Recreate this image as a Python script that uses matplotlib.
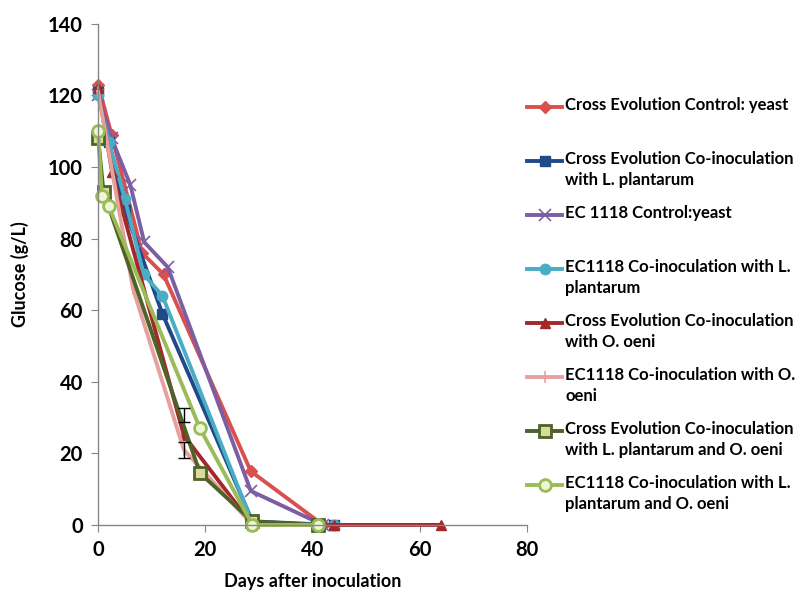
import numpy as np
import matplotlib
matplotlib.use("Agg")
import matplotlib.pyplot as plt

plt.rcParams['font.family'] = ['Lato', 'DejaVu Sans']
plt.rcParams['font.weight'] = 'bold'

# Glucose (g/L) against days after inoculation, one list pair per treatment
ce_ctrl_days = [0, 2.5, 8.2, 12.2, 28.5, 42]
ce_ctrl_glu = [123, 109, 76, 70, 15, 0]

ce_lp_days = [0, 2, 5, 12, 28.8, 44]
ce_lp_glu = [121, 107, 88, 59, 1, 0]

ec_ctrl_days = [0, 2.5, 6, 8.6, 13, 28.5, 42]
ec_ctrl_glu = [120, 108, 95, 79, 72, 9.5, 0]

ec_lp_days = [0, 2, 5, 8.5, 12, 28.8, 44]
ec_lp_glu = [120, 107, 91, 70, 64, 0.5, 0]

ce_oo_days = [0, 2.6, 16, 28.8, 44, 64]
ce_oo_glu = [122, 98.5, 25, 0, 0, 0]

ec_oo_days = [0, 2, 6.5, 16, 28.8, 41]
ec_oo_glu = [121, 104, 66, 21, 0, 0]

ce_lpoo_days = [0, 1, 19, 28.8, 41]
ce_lpoo_glu = [108, 93, 14.5, 1, 0]

ec_lpoo_days = [0, 0.7, 2, 19, 28.8, 41]
ec_lpoo_glu = [110, 92, 89, 27, 0, 0]

# standard deviation bars shown around day 16
err_days = [16, 16]
err_mid = [30.7, 21]
err_half = [2, 2.2]

labels = [
    "Cross Evolution Control: yeast",
    "Cross Evolution Co-inoculation\nwith L. plantarum",
    "EC 1118 Control:yeast",
    "EC1118 Co-inoculation with L.\nplantarum",
    "Cross Evolution Co-inoculation\nwith O. oeni",
    "EC1118 Co-inoculation with O.\noeni",
    "Cross Evolution Co-inoculation\nwith L. plantarum and O. oeni",
    "EC1118 Co-inoculation with L.\nplantarum and O. oeni",
]

series = [
    (ce_ctrl_days, ce_ctrl_glu),
    (ce_lp_days, ce_lp_glu),
    (ec_ctrl_days, ec_ctrl_glu),
    (ec_lp_days, ec_lp_glu),
    (ce_oo_days, ce_oo_glu),
    (ec_oo_days, ec_oo_glu),
    (ce_lpoo_days, ce_lpoo_glu),
    (ec_lpoo_days, ec_lpoo_glu),
]

styles = [
    dict(color="#D9504E", marker="D", ms=6.5, mfc="#D9504E", mec="#D9504E"),
    dict(color="#1F4A87", marker="s", ms=7.5, mfc="#1F4A87", mec="#1F4A87"),
    dict(color="#7C5FA3", marker="x", ms=8, mfc="#7C5FA3", mec="#7C5FA3", mew=1.2),
    dict(color="#4BACC6", marker="o", ms=7.5, mfc="#4BACC6", mec="#4BACC6"),
    dict(color="#A3282C", marker="^", ms=7.5, mfc="#A3282C", mec="#A3282C"),
    dict(color="#E8A09E", marker="|", ms=9, mfc="#E8A09E", mec="#E8A09E", mew=1.2),
    dict(color="#4F6228", marker="s", ms=8, mfc="#D8DC98", mec="#4F6228", mew=2),
    dict(color="#9BBB59", marker="o", ms=8.5, mfc="#EEF6D8", mec="#9BBB59", mew=2),
]

fig = plt.figure(figsize=(7.98, 6.01), dpi=100)
ax = fig.add_axes([0.123, 0.1265, 0.537, 0.834])

for (d, g), st in zip(series, styles):
    ax.plot(d, g, lw=2.8, clip_on=False, **st)

ax.errorbar(err_days, err_mid, yerr=err_half, fmt="none", ecolor="black",
            elinewidth=1, capsize=4, capthick=1)

ax.set_xlim(0, 80)
ax.set_ylim(0, 140)
ax.set_xticks(np.arange(0, 81, 20))
ax.set_yticks(np.arange(0, 141, 20))
for s in ["top", "right"]:
    ax.spines[s].set_visible(False)
for s in ["left", "bottom"]:
    ax.spines[s].set_color("#868686")
    ax.spines[s].set_linewidth(1)
ax.tick_params(axis="both", direction="out", length=5, color="#868686",
               labelsize=14.5, pad=6)
ax.set_xlabel("Days after inoculation", fontsize=13, fontweight="bold", labelpad=9)
ax.set_ylabel("Glucose (g/L)", fontsize=13, fontweight="bold", labelpad=14)

# legend drawn by hand so the marker sits on the first text line
leg = fig.add_axes([0, 0, 1, 1], facecolor="none")
leg.set_xlim(0, 798)
leg.set_ylim(601, 0)
leg.axis("off")
for i, (lab, st) in enumerate(zip(labels, styles)):
    y = 107 + 54 * i
    leg.plot([527, 562], [y, y], lw=2.8, color=st["color"])
    mk = dict(st)
    mk.pop("color")
    leg.plot([544.5], [y], color=st["color"], **mk)
    leg.text(565, y - 10, lab, fontsize=12, fontweight="bold", va="top",
             linespacing=1.35)

fig.savefig("out.png", dpi=100)
